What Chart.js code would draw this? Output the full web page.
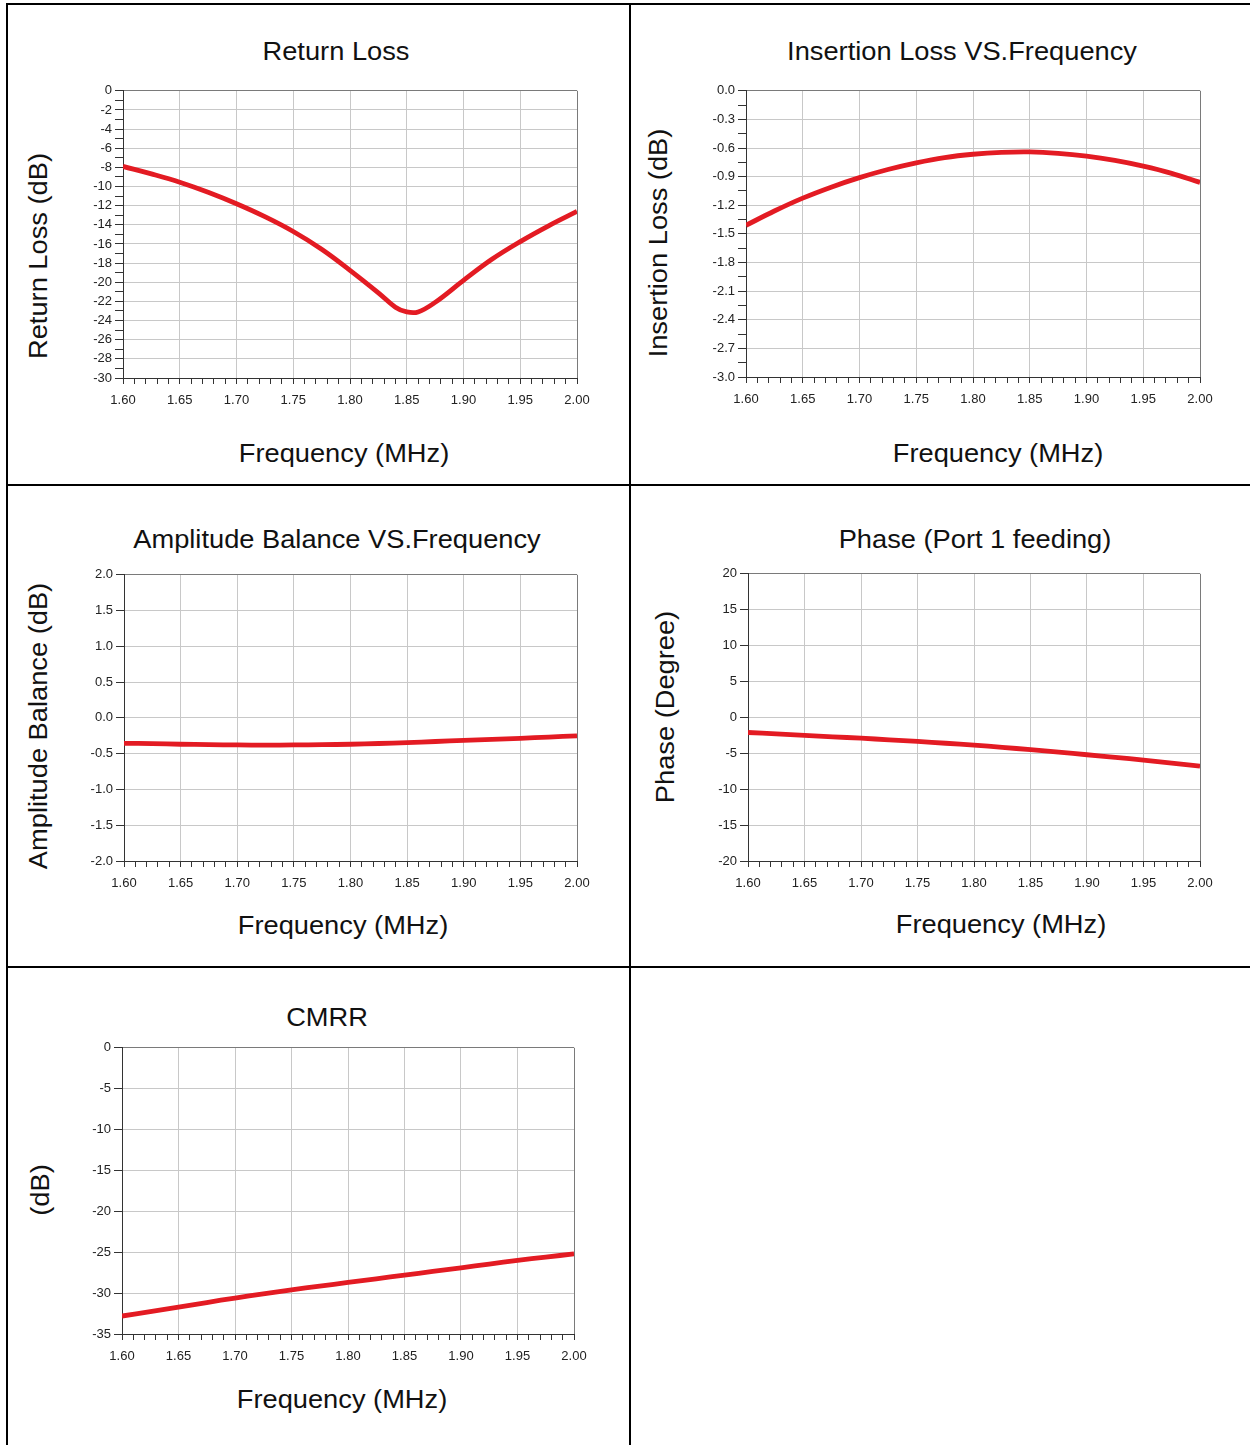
<!DOCTYPE html>
<html>
<head>
<meta charset="utf-8">
<script src="https://cdn.jsdelivr.net/npm/chart.js@4/dist/chart.umd.min.js"></script>
<style>
body{margin:0;background:#fff;width:1250px;height:1445px;overflow:hidden;position:relative;font-family:"Liberation Sans",Arial,sans-serif;}
.ln{position:absolute;background:#000;}
.box{position:absolute;}
.txt{position:absolute;white-space:nowrap;font-size:25px;line-height:1;color:#111;transform:translate(-50%,-50%) scaleX(1.09);}
.rot{transform:translate(-50%,-50%) rotate(-90deg) scaleX(1.09);}
</style>
</head>
<body>
<!-- table lines -->
<div class="ln" style="left:6px;top:3px;width:1244px;height:2px"></div>
<div class="ln" style="left:6px;top:3px;width:2px;height:1442px"></div>
<div class="ln" style="left:629px;top:3px;width:2px;height:1442px"></div>
<div class="ln" style="left:6px;top:484px;width:1244px;height:2px"></div>
<div class="ln" style="left:6px;top:966px;width:1244px;height:2px"></div>

<!-- titles -->
<div class="txt" style="left:336px;top:51px">Return Loss</div>
<div class="txt rot" style="left:38px;top:256px">Return Loss (dB)</div>
<div class="txt" style="left:344px;top:453px">Frequency (MHz)</div>

<div class="txt" style="left:962px;top:51px">Insertion Loss VS.Frequency</div>
<div class="txt rot" style="left:658px;top:243px">Insertion Loss (dB)</div>
<div class="txt" style="left:998px;top:453px">Frequency (MHz)</div>

<div class="txt" style="left:337px;top:539px">Amplitude Balance VS.Frequency</div>
<div class="txt rot" style="left:38px;top:726px">Amplitude Balance (dB)</div>
<div class="txt" style="left:343px;top:925px">Frequency (MHz)</div>

<div class="txt" style="left:975px;top:539px">Phase (Port 1 feeding)</div>
<div class="txt rot" style="left:665px;top:707px">Phase (Degree)</div>
<div class="txt" style="left:1001px;top:924px">Frequency (MHz)</div>

<div class="txt" style="left:327px;top:1017px">CMRR</div>
<div class="txt rot" style="left:40px;top:1190px">(dB)</div>
<div class="txt" style="left:342px;top:1399px">Frequency (MHz)</div>

<div class="box" style="left:63px;top:80px"><canvas id="c1" width="544" height="338"></canvas></div>
<div class="box" style="left:686px;top:80px"><canvas id="c2" width="544" height="337"></canvas></div>
<div class="box" style="left:64px;top:564px"><canvas id="c3" width="543" height="337"></canvas></div>
<div class="box" style="left:688px;top:563px"><canvas id="c4" width="542" height="338"></canvas></div>
<div class="box" style="left:62px;top:1037px"><canvas id="c5" width="542" height="337"></canvas></div>

<script>
// ---- data ----
const freqs = [1.600, 1.625, 1.650, 1.675, 1.700, 1.725, 1.750, 1.775, 1.800, 1.825, 1.850, 1.875, 1.900, 1.925, 1.950, 1.975, 2.000];
const rlFreqs = [1.600, 1.625, 1.650, 1.675, 1.700, 1.725, 1.750, 1.775, 1.800, 1.825, 1.840, 1.850, 1.860, 1.875, 1.900, 1.925, 1.950, 1.975, 2.000];
const returnLoss = [-7.9, -8.68, -9.55, -10.6, -11.8, -13.15, -14.7, -16.55, -18.75, -21.1, -22.6, -23.1, -23.1, -22.1, -19.8, -17.6, -15.75, -14.1, -12.6];
const insertionLoss = [-1.41, -1.26, -1.125, -1.01, -0.91, -0.825, -0.755, -0.70, -0.665, -0.645, -0.64, -0.655, -0.685, -0.73, -0.79, -0.865, -0.96];
const ampBalance = [-0.355, -0.36, -0.368, -0.374, -0.378, -0.38, -0.378, -0.374, -0.368, -0.358, -0.345, -0.33, -0.315, -0.30, -0.285, -0.268, -0.25];
const phase = [-2.1, -2.3, -2.5, -2.7, -2.9, -3.12, -3.35, -3.6, -3.87, -4.17, -4.5, -4.85, -5.2, -5.57, -5.95, -6.36, -6.8];
const cmrr = [-32.8, -32.25, -31.7, -31.15, -30.6, -30.1, -29.6, -29.15, -28.7, -28.25, -27.8, -27.35, -26.9, -26.45, -26.0, -25.6, -25.2];

const xMin = 1.6, xMax = 2.0;
const xStep = 0.01;         // minor ticks
const xLabelEvery = 5;      // label every 0.05

const gridColor = '#c8c8c8';
const edgeColor = '#7a7a7a';
const axisColor = '#333';
const lineColor = '#e31b23';
const tickFont = {family: 'Liberation Sans', size: 13};

const isMajorX = v => Math.round(v / xStep) % xLabelEvery === 0;

const makeChart = (id, xs, ys, yMin, yMax, yStep, labelEvery, decimals) => {
  const isMajorY = v => Math.abs(Math.round(v / yStep)) % labelEvery === 0;
  return new Chart(document.getElementById(id), {
    type: 'line',
    data: {
      datasets: [{
        data: xs.map((x, i) => ({x: x, y: ys[i]})),
        borderColor: lineColor,
        borderWidth: 4.8,
        pointRadius: 0,
        tension: 0.4
      }]
    },
    options: {
      responsive: false,
      animation: false,
      layout: {padding: {top: 10, right: 30, left: 0, bottom: 0}},
      plugins: {legend: {display: false}, tooltip: {enabled: false}},
      scales: {
        x: {
          type: 'linear', min: xMin, max: xMax,
          afterFit: s => { s.height = 40; },
          border: {color: axisColor, width: 1},
          grid: {
            color: c => !c.tick ? gridColor : (Math.abs(c.tick.value - xMax) < 1e-6 ? edgeColor : (isMajorX(c.tick.value) ? gridColor : 'rgba(0,0,0,0)')),
            tickColor: axisColor, tickLength: 6
          },
          ticks: {
            stepSize: xStep, autoSkip: false, maxRotation: 0, padding: 9,
            font: tickFont, color: '#222',
            callback: v => isMajorX(v) ? v.toFixed(2) : ''
          }
        },
        y: {
          type: 'linear', min: yMin, max: yMax,
          afterFit: s => { s.width = 60; },
          border: {color: axisColor, width: 1},
          grid: {
            color: c => !c.tick ? gridColor : (Math.abs(c.tick.value - yMax) < 1e-6 ? edgeColor : (isMajorY(c.tick.value) ? gridColor : 'rgba(0,0,0,0)')),
            tickColor: axisColor, tickLength: 8
          },
          ticks: {
            stepSize: yStep, autoSkip: false, padding: 3,
            font: tickFont, color: '#222',
            callback: v => isMajorY(v) ? (Math.abs(v) < 1e-9 ? (0).toFixed(decimals) : v.toFixed(decimals)) : ''
          }
        }
      }
    }
  });
};

makeChart('c1', rlFreqs, returnLoss, -30, 0, 1, 2, 0);
makeChart('c2', freqs, insertionLoss, -3, 0, 0.15, 2, 1);
makeChart('c3', freqs, ampBalance, -2, 2, 0.5, 1, 1);
makeChart('c4', freqs, phase, -20, 20, 5, 1, 0);
makeChart('c5', freqs, cmrr, -35, 0, 5, 1, 0);
</script>
</body>
</html>
